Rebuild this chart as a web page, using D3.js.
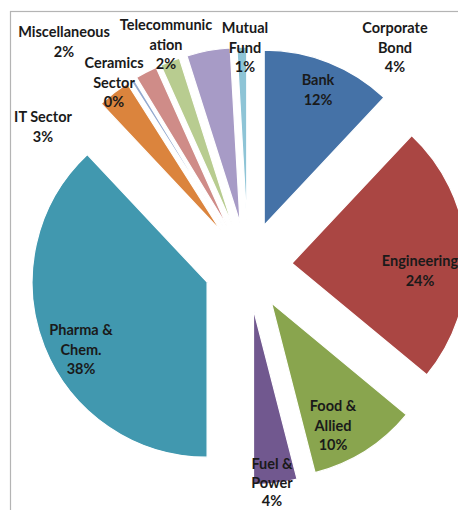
<!DOCTYPE html>
<html>
<head>
<meta charset="utf-8">
<script src="https://cdn.jsdelivr.net/npm/d3@7"></script>
<style>
  html, body { margin: 0; padding: 0; background: #fff; overflow: hidden; }
  text { font-family: Lato, "Open Sans", sans-serif; font-weight: bold; font-size: 14.5px; fill: #1a1a1a; }
</style>
</head>
<body>
<div id="chart"></div>
<script>
// sector shares in %, clockwise from 12 o'clock
const sectors = ["Bank", "Engineering", "Food & Allied", "Fuel & Power", "Pharma & Chem.",
    "IT Sector", "Ceramics Sector", "Miscellaneous", "Telecommunication", "Corporate Bond", "Mutual Fund"];
const shares = [12, 24, 10, 4, 38, 3, 0.3, 2, 1.8, 4, 0.9];
// how each label is wrapped (last line is the percentage)
const labelLines = [["Bank"], ["Engineering"], ["Food &", "Allied"], ["Fuel &", "Power"], ["Pharma &", "Chem."],
    ["IT Sector"], ["Ceramics", "Sector"], ["Miscellaneous"], ["Telecommunic", "ation"], ["Corporate", "Bond"], ["Mutual", "Fund"]];

const colors = ["#4572a7", "#aa4643", "#89a54e", "#71588f", "#4198af", "#db843d",
    "#93a9cf", "#cf8c88", "#b8cc90", "#a79bc6", "#8ec4d6"];

// where Excel left each label (first line centre)
const labelAt = [[318, 80], [420, 261], [333, 406], [272, 464], [81, 330],
    [43, 117], [114, 63], [64, 32], [166, 25], [395, 28], [245, 28]];

const width = 458, height = 510;
const cx = 248, cy = 266;
const radius = 175;
const explode = 44;
const lineH = 19.5;

const svg = d3.select("#chart")
    .append("svg")
    .attr("width", width)
    .attr("height", height);

// chart area frame (runs off the cropped picture)
svg.append("rect")
    .attr("x", 10.5)
    .attr("y", 11.5)
    .attr("width", 520)
    .attr("height", 560)
    .attr("fill", "none")
    .attr("stroke", "#b4b4b4")
    .attr("stroke-width", 1.2);

const total = d3.sum(shares);

const pie = d3.pie()
    .sort(null)
    .value(d => d);

const arc = d3.arc()
    .innerRadius(0)
    .outerRadius(radius);

const arcs = pie(shares);

const g = svg.append("g")
    .attr("transform", `translate(${cx},${cy})`);

g.selectAll(".slice")
    .data(arcs)
    .enter()
    .append("path")
    .attr("class", "slice")
    .attr("transform", d => {
        const mid = (d.startAngle + d.endAngle) / 2;
        return `translate(${Math.sin(mid) * explode},${-Math.cos(mid) * explode})`;
    })
    .attr("d", arc)
    .attr("fill", (d, i) => colors[i])
    .attr("stroke", "#fff")
    .attr("stroke-width", 1.2)
    .attr("stroke-linejoin", "round");

const labels = svg.selectAll(".label")
    .data(arcs)
    .enter()
    .append("text")
    .attr("class", "label")
    .attr("text-anchor", "middle");

labels.each(function (d, i) {
    const lines = labelLines[i].concat([Math.round(d.value / total * 100) + "%"]);
    const t = d3.select(this);
    // the bottom label is squeezed a little, as in the original
    const step = i === 3 ? 18.5 : lineH;
    lines.forEach((s, k) => {
        t.append("tspan")
            .attr("x", labelAt[i][0])
            .attr("y", labelAt[i][1] + k * step)
            .attr("dy", "0.36em")
            .text(s);
    });
});
</script>
</body>
</html>
